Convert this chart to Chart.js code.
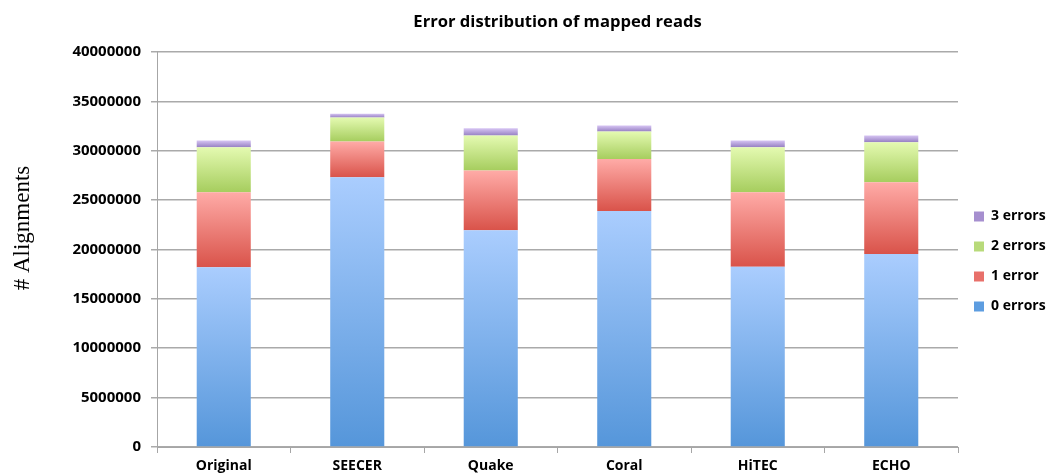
<!DOCTYPE html>
<html>
<head>
<meta charset="utf-8">
<script src="https://cdn.jsdelivr.net/npm/chart.js@4.4.0/dist/chart.umd.min.js"></script>
<style>
  html, body { margin: 0; padding: 0; background: #fff; }
  #wrap { width: 1050px; height: 475px; }
</style>
</head>
<body>
<div id="wrap"><canvas id="miChart"></canvas></div>
<script>
// Categorias (programas de correccion)
const programas = ['Original', 'SEECER', 'Quake', 'Coral', 'HiTEC', 'ECHO'];

// Alineamientos por numero de errores
const errores0 = [18200000, 27300000, 21950000, 23900000, 18250000, 19550000];
const errores1 = [7600000, 3630000, 6050000, 5250000, 7550000, 7250000];
const errores2 = [4550000, 2420000, 3530000, 2790000, 4560000, 4060000];
const errores3 = [670000, 400000, 730000, 600000, 670000, 680000];

const etiquetas = ['0 errors', '1 error', '2 errors', '3 errors'];
const series = [errores0, errores1, errores2, errores3];

// Colores: [arriba, abajo, leyenda]
const colores = [
  ['#aacdfe', '#5596da', '#5d9de0'],
  ['#ffaba7', '#d9534a', '#e8706a'],
  ['#e4fab1', '#a6cd5e', '#b8da7a'],
  ['#d6c4f3', '#9680c2', '#a68fcf']
];

// Degradado vertical por segmento de la barra
function degradado(i) {
  return function(context) {
    const chart = context.chart;
    const { ctx, chartArea, scales } = chart;
    if (context.type !== 'data' || !chartArea || !scales.y) return colores[i][2];
    let inicio = 0;
    for (let k = 0; k < i; k++) inicio += series[k][context.dataIndex];
    const fin = inicio + series[i][context.dataIndex];
    const yArriba = scales.y.getPixelForValue(fin);
    const yAbajo = scales.y.getPixelForValue(inicio);
    const g = ctx.createLinearGradient(0, yArriba, 0, yAbajo);
    g.addColorStop(0, colores[i][0]);
    g.addColorStop(1, colores[i][1]);
    return g;
  };
}

// Titulo del eje Y (un poco arriba del centro, como en la original)
const tituloY = {
  id: 'tituloY',
  afterDraw(chart) {
    const ctx = chart.ctx;
    ctx.save();
    ctx.translate(23, 228);
    ctx.rotate(-Math.PI / 2);
    ctx.font = '23px "Liberation Serif"';
    ctx.fillStyle = '#000';
    ctx.textAlign = 'center';
    ctx.textBaseline = 'middle';
    ctx.fillText('# Alignments', 0, 0);
    ctx.restore();
  }
};

const datos = {
  labels: programas,
  datasets: series.map((s, i) => ({
    label: etiquetas[i],
    data: s,
    backgroundColor: degradado(i),
    borderWidth: 0,
    barPercentage: 0.405,
    categoryPercentage: 1
  }))
};

const config = {
  type: 'bar',
  data: datos,
  plugins: [tituloY],
  options: {
    responsive: true,
    maintainAspectRatio: false,
    animation: false,
    plugins: {
      title: {
        display: true,
        text: 'Error distribution of mapped reads',
        fullSize: false,
        color: '#000',
        font: { family: 'Open Sans', size: 16.6, weight: 'bold' },
        padding: { top: 12, bottom: 20 }
      },
      legend: {
        position: 'right',
        reverse: true,
        maxWidth: 92,
        title: { display: true, text: ' ', font: { size: 10 }, padding: { top: 36, bottom: 0 } },
        labels: {
          color: '#000',
          boxWidth: 10,
          boxHeight: 10,
          padding: 16,
          font: { family: 'Open Sans', size: 14, weight: 'bold' },
          generateLabels: function(chart) {
            return chart.data.datasets.map((d, i) => ({
              text: d.label,
              fillStyle: colores[i][2],
              strokeStyle: colores[i][2],
              lineWidth: 0,
              fontColor: '#000',
              hidden: false,
              datasetIndex: i
            }));
          }
        }
      },
      tooltip: { enabled: false }
    },
    scales: {
      x: {
        stacked: true,
        afterFit: function(s) { s.height = 28; },
        grid: { drawOnChartArea: false, offset: true, tickLength: 6, color: '#a6a6a6' },
        border: { color: '#a6a6a6' },
        ticks: { color: '#000', padding: 5, font: { family: 'Open Sans', size: 14, weight: 'bold' } }
      },
      y: {
        stacked: true,
        min: 0,
        max: 40000000,
        afterFit: function(s) { s.width = 157; },
        grid: { color: '#aaaaaa', lineWidth: 1.5, tickLength: 6 },
        border: { color: '#a6a6a6' },
        ticks: {
          stepSize: 5000000,
          color: '#000',
          padding: 10,
          font: { family: 'Open Sans', size: 15, weight: 'bold' },
          callback: v => String(v)
        }
      }
    }
  }
};

var miChart = new Chart(document.getElementById('miChart'), config);
</script>
</body>
</html>
